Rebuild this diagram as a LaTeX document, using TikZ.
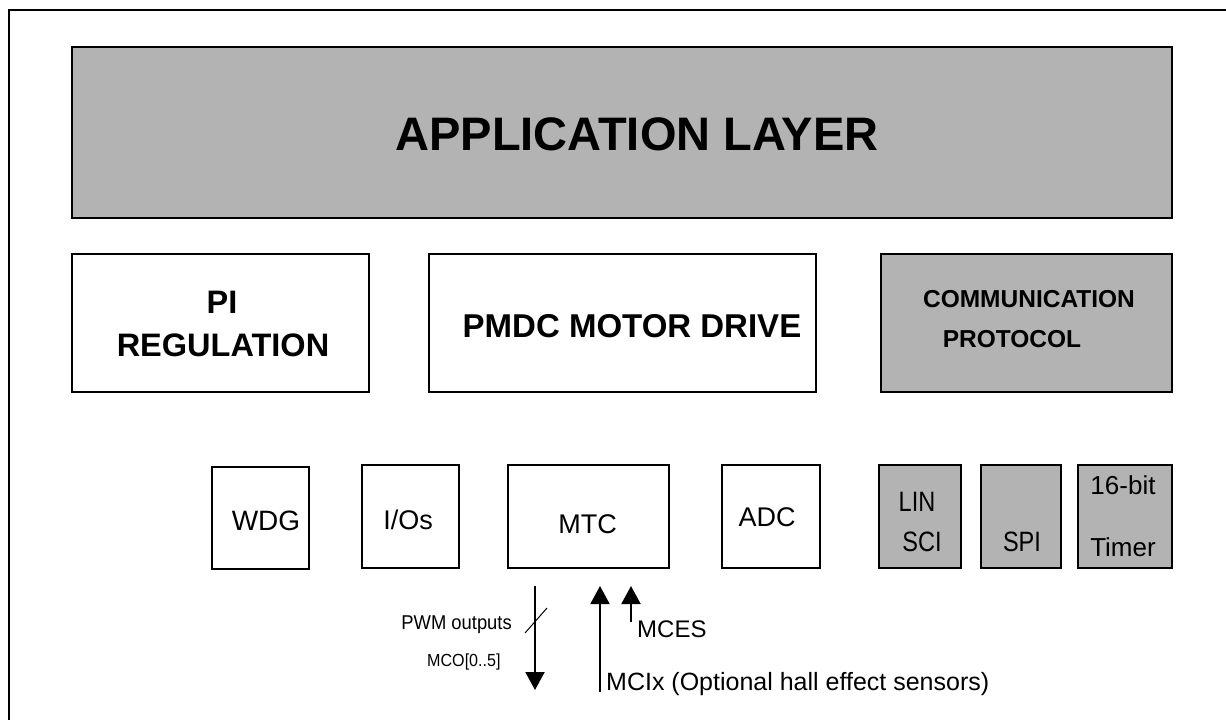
\documentclass[tikz,border=0pt]{standalone}
\usepackage{fontspec}
\setmainfont{Liberation Sans}
\newfontfamily\narrowfont[FakeStretch=0.84]{Liberation Sans}
\newfontfamily\semifont[FakeStretch=0.92]{Liberation Sans}
\usetikzlibrary{arrows.meta}
\definecolor{boxgray}{RGB}{179,179,179}
\tikzset{
  blk/.style={draw=black, line width=2pt, inner sep=0pt},
  grayblk/.style={blk, fill=boxgray},
  lbl/.style={inner sep=0pt, anchor=base},
  sig/.style={line width=2pt, -{Triangle[length=18pt,width=19pt]}},
}
\begin{document}
\begin{tikzpicture}[x=1pt,y=-1pt]
\useasboundingbox (0,0) rectangle (1226,720);
% outer frame (cut by the page at right and bottom)
\draw[line width=2.4pt] (9,740) -- (9,10) -- (1240,10);

% big blocks
\node[grayblk, minimum width=1100pt, minimum height=171pt] (app) at (622,132.5) {};
\node[blk, minimum width=297pt, minimum height=138pt] (pi) at (220.5,323) {};
\node[blk, minimum width=387pt, minimum height=138pt] (pmdc) at (622.5,323) {};
\node[grayblk, minimum width=291pt, minimum height=138pt] (comm) at (1026.5,323) {};

% small blocks
\node[blk, minimum width=97pt, minimum height=102pt] (wdg) at (260.5,518) {};
\node[blk, minimum width=97pt, minimum height=103pt] (ios) at (410.5,516.5) {};
\node[blk, minimum width=161pt, minimum height=103pt] (mtc) at (588.5,516.5) {};
\node[blk, minimum width=98pt, minimum height=103pt] (adc) at (771,516.5) {};
\node[grayblk, minimum width=82pt, minimum height=103pt] (lin) at (920,516.5) {};
\node[grayblk, minimum width=80pt, minimum height=103pt] (spi) at (1021,516.5) {};
\node[grayblk, minimum width=94pt, minimum height=103pt] (tim) at (1125,516.5) {};

% texts
\node[lbl, font=\fontsize{47}{50}\selectfont\bfseries] (tapp) at (637,150) {APPLICATION LAYER};
\node[lbl, font=\fontsize{32.5}{34}\selectfont\bfseries] (tpi1) at (222,313) {PI};
\node[lbl, font=\fontsize{32.5}{34}\selectfont\bfseries] (tpi2) at (223,356) {REGULATION};
\node[lbl, font=\fontsize{33}{35}\selectfont\bfseries] (tpmdc) at (632,337) {PMDC MOTOR DRIVE};
\node[lbl, font=\fontsize{24.5}{27}\selectfont\bfseries] (tcom1) at (1029,307) {COMMUNICATION};
\node[lbl, font=\fontsize{24.5}{27}\selectfont\bfseries] (tcom2) at (1012,347) {PROTOCOL};

\node[lbl, font=\fontsize{28}{30}\selectfont] (twdg) at (266,530) {WDG};
\node[lbl, font=\fontsize{27}{30}\selectfont] (tios) at (408,529) {I/Os};
\node[lbl, font=\fontsize{27}{30}\selectfont] (tmtc) at (587.5,533) {MTC};
\node[lbl, font=\fontsize{27}{30}\selectfont] (tadc) at (767,526) {ADC};
\node[lbl, font=\narrowfont\fontsize{28}{30}\selectfont] (tlin) at (917,511) {LIN};
\node[lbl, font=\narrowfont\fontsize{28}{30}\selectfont] (tsci) at (922,551) {SCI};
\node[lbl, font=\narrowfont\fontsize{28}{30}\selectfont] (tspi) at (1022,551) {SPI};
\node[lbl, font=\fontsize{26}{30}\selectfont] (t16) at (1123,494) {16-bit};
\node[lbl, font=\fontsize{26}{30}\selectfont] (ttim) at (1123,556) {Timer};

% signals
\coordinate (pwmA) at (535,586);
\coordinate (pwmB) at (535,690);
\coordinate (mciA) at (600,692);
\coordinate (mciB) at (600,586);
\coordinate (mcesA) at (631,622);
\coordinate (mcesB) at (631,586);
\coordinate (slA) at (525,633);
\coordinate (slB) at (547,608);
\draw[sig] (pwmA) -- (pwmB);
\draw[sig] (mciA) -- (mciB);
\draw[sig] (mcesA) -- (mcesB);
\draw[line width=1pt] (slA) -- (slB);

\node[lbl, anchor=base east, font=\semifont\fontsize{20}{22}\selectfont] (tpwm) at (512,629) {PWM outputs};
\node[lbl, anchor=base west, font=\semifont\fontsize{17.5}{20}\selectfont] (tmco) at (427,666) {MCO[0..5]};
\node[lbl, anchor=base west, font=\fontsize{24}{26}\selectfont] (tmces) at (637,637) {MCES};
\node[lbl, anchor=base west, font=\fontsize{25}{27}\selectfont] (tmci) at (606,690) {MCIx (Optional hall effect sensors)};
\end{tikzpicture}
\end{document}
